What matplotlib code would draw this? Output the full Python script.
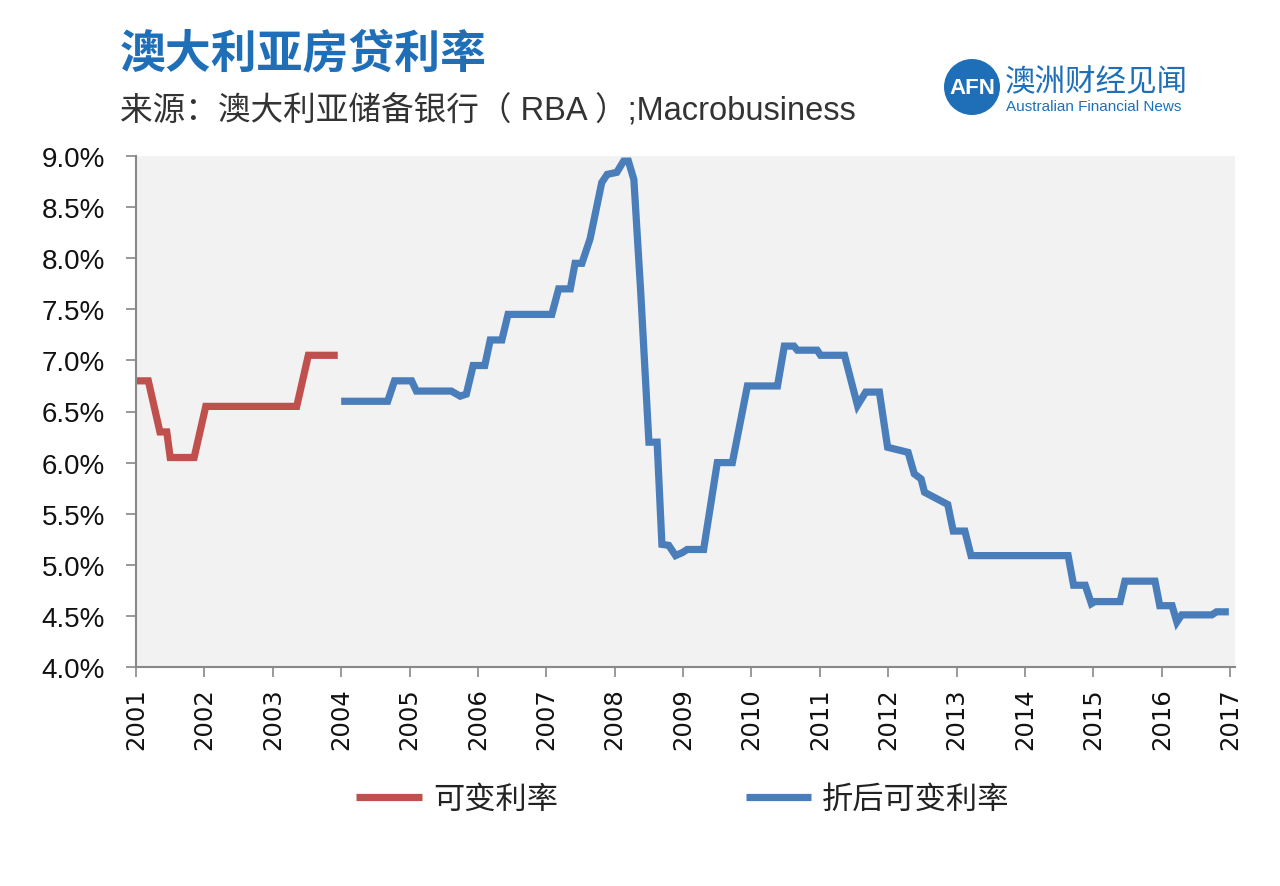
import matplotlib
matplotlib.use("Agg")
import matplotlib.pyplot as plt
from matplotlib.patches import Ellipse

plt.rcParams['font.family'] = ['Noto Sans CJK SC', 'DejaVu Sans']

# ---- data ----
red_x = [2001.0, 2001.18, 2001.35, 2001.45, 2001.50, 2001.85, 2002.02, 2003.35, 2003.52, 2003.95]
red_y = [6.80, 6.80, 6.30, 6.30, 6.05, 6.05, 6.55, 6.55, 7.05, 7.05]

blue_x = [2004.00, 2004.68, 2004.78, 2005.03, 2005.10, 2005.61, 2005.74, 2005.83, 2005.93, 2006.10,
          2006.18, 2006.35, 2006.44, 2007.08, 2007.18, 2007.35, 2007.42, 2007.52, 2007.64, 2007.81,
          2007.89, 2008.03, 2008.13, 2008.20, 2008.28, 2008.38, 2008.50, 2008.62, 2008.69, 2008.79,
          2008.89, 2008.99, 2009.06, 2009.30, 2009.50, 2009.72, 2009.94, 2010.38, 2010.48, 2010.62,
          2010.67, 2010.96, 2011.01, 2011.36, 2011.55, 2011.67, 2011.87, 2011.99, 2012.29, 2012.38,
          2012.48, 2012.53, 2012.87, 2012.95, 2013.12, 2013.21, 2014.63, 2014.71, 2014.88, 2014.97,
          2015.02, 2015.39, 2015.46, 2015.90, 2015.97, 2016.15, 2016.22, 2016.29, 2016.73, 2016.80,
          2016.98]
blue_y = [6.60, 6.60, 6.80, 6.80, 6.70, 6.70, 6.65, 6.67, 6.95, 6.95,
          7.20, 7.20, 7.45, 7.45, 7.70, 7.70, 7.95, 7.95, 8.19, 8.74,
          8.82, 8.84, 8.95, 8.95, 8.77, 7.67, 6.20, 6.20, 5.20, 5.19,
          5.09, 5.12, 5.15, 5.15, 6.00, 6.00, 6.75, 6.75, 7.14, 7.14,
          7.10, 7.10, 7.05, 7.05, 6.56, 6.69, 6.69, 6.15, 6.10, 5.89,
          5.84, 5.71, 5.59, 5.33, 5.33, 5.09, 5.09, 4.80, 4.80, 4.62,
          4.64, 4.64, 4.84, 4.84, 4.60, 4.60, 4.44, 4.51, 4.51, 4.54,
          4.54]

years = list(range(2001, 2018))
yticks = [4.0, 4.5, 5.0, 5.5, 6.0, 6.5, 7.0, 7.5, 8.0, 8.5, 9.0]
series_names = ['可变利率', '折后可变利率']

title = '澳大利亚房贷利率'
subtitle = '来源：澳大利亚储备银行（ RBA ）;Macrobusiness'

# ---- figure ----
W, H = 1280, 887
fig = plt.figure(figsize=(W / 100, H / 100), dpi=100)
fig.patch.set_facecolor('white')
ax = fig.add_axes([136 / W, 1 - 668 / H, (1235 - 136) / W, (668 - 157) / H])
ax.set_facecolor('#f2f2f2')

red = '#c0504d'
blue = '#4a7ebb'
l1, = ax.plot(red_x, red_y, color=red, lw=5.2, solid_joinstyle='miter',
              solid_capstyle='butt', label=series_names[0])
l2, = ax.plot(blue_x, blue_y, color=blue, lw=5.2, solid_joinstyle='miter',
              solid_capstyle='butt', label=series_names[1])

ax.set_xlim(2001, 2017.07)
ax.set_ylim(4.0, 9.0)
ax.set_xticks(years)
ax.set_xticklabels([str(y) for y in years], rotation=90, fontsize=17.5,
                   family=['DejaVu Sans'], color='#111111')
ax.set_yticks(yticks)
ax.set_yticklabels([f'{v:.1f}%' for v in yticks], fontsize=20,
                   family=['Liberation Sans', 'DejaVu Sans'], color='#111111')
for s in ['top', 'right']:
    ax.spines[s].set_visible(False)
for s in ['left', 'bottom']:
    ax.spines[s].set_color('#888888')
    ax.spines[s].set_linewidth(1.5)
ax.tick_params(axis='both', direction='out', length=7.5, width=1.2, color='#888888')
ax.tick_params(axis='y', pad=15)
ax.tick_params(axis='x', pad=7)

leg = fig.legend(handles=[l1, l2], loc='center', bbox_to_anchor=(683 / W, 1 - 800 / H),
                 ncol=2, frameon=False, fontsize=22.5, handlelength=2.1,
                 handletextpad=0.35, columnspacing=6.0, labelcolor='#222222')

# ---- titles ----
fig.text(120 / W, 1 - 54 / H, title, fontsize=33, fontweight='bold', color='#1f6fb8',
         va='center', ha='left')
fig.text(120 / W, 1 - 111 / H, subtitle, fontsize=23.5, color='#333333',
         va='center', ha='left', family=['Liberation Sans', 'Noto Sans CJK SC'])

# ---- logo ----
r = 28
circ = Ellipse((972 / W, 1 - 88 / H), 2 * r / W, 2 * r / H, transform=fig.transFigure,
               facecolor='#1f6fb8', edgecolor='none')
fig.patches.append(circ)
fig.text(972 / W, 1 - 88 / H, 'AFN', fontsize=16, fontweight='bold', color='white',
         ha='center', va='center', family=['Liberation Sans', 'DejaVu Sans'])
fig.text(1005 / W, 1 - 83 / H, '澳洲财经见闻', fontsize=22, color='#1f6fb8',
         ha='left', va='center')
fig.text(1006 / W, 1 - 107 / H, 'Australian Financial News', fontsize=11, color='#1f6fb8',
         ha='left', va='center', family=['Liberation Sans', 'DejaVu Sans'])

fig.savefig('out.png', dpi=100, facecolor='white')
